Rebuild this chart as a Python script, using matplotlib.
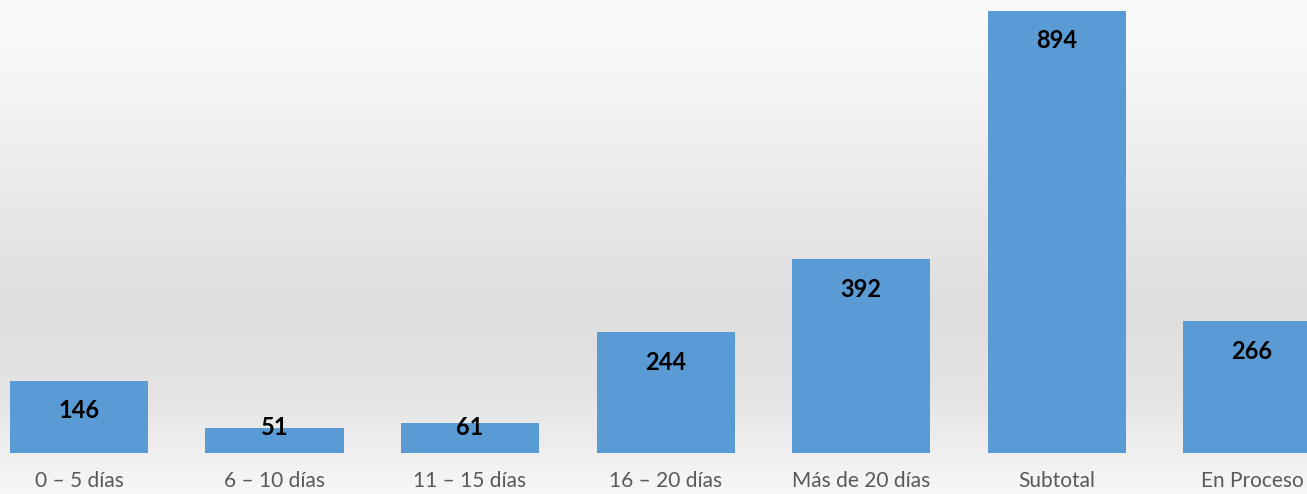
import numpy as np
import matplotlib
matplotlib.use('Agg')
import matplotlib.pyplot as plt
from matplotlib.colors import LinearSegmentedColormap

categories = ['0 – 5 días', '6 – 10 días', '11 – 15 días', '16 – 20 días',
              'Más de 20 días', 'Subtotal', 'En Proceso']
values = [146, 51, 61, 244, 392, 894, 266]

plt.rcParams['font.family'] = ['Lato', 'DejaVu Sans']

fig = plt.figure(figsize=(13.07, 4.94), dpi=100)

# background gradient (light top, grey middle, light bottom)
bg = fig.add_axes([0, 0, 1, 1])
bg.set_axis_off()
cmap = LinearSegmentedColormap.from_list('bg', [(0.0, '#fbfbfb'), (0.15, '#f6f6f6'),
                                                 (0.62, '#dedede'), (0.8, '#e4e4e4'),
                                                 (1.0, '#f7f7f7')])
grad = np.linspace(0, 1, 256).reshape(-1, 1)
bg.imshow(grad, aspect='auto', cmap=cmap, extent=[0, 1, 0, 1], origin='upper')

ax = fig.add_axes([0, 41/494, 1, 1 - 52/494])
ax.patch.set_alpha(0)
x = np.arange(len(categories))
bars = ax.bar(x, values, width=0.706, color='#5b9bd5')
ax.set_xlim(-0.404, 6.281)
ax.set_ylim(0, 894)

# labels sit ~30 px under the bar top, but never lower than ~26 px above the base
px = 894 / 442.0
for b, v in zip(bars, values):
    ly = max(v - 30 * px, 26 * px)
    ax.text(b.get_x() + b.get_width() / 2, ly, str(v), ha='center', va='center',
            fontsize=17, fontweight='bold', color='black')

ax.set_xticks(x)
ax.set_xticklabels(categories, fontsize=15, color='#595959')
ax.tick_params(axis='x', length=0, pad=13)
ax.set_yticks([])
for s in ax.spines.values():
    s.set_visible(False)

fig.savefig('out.png', dpi=100)
